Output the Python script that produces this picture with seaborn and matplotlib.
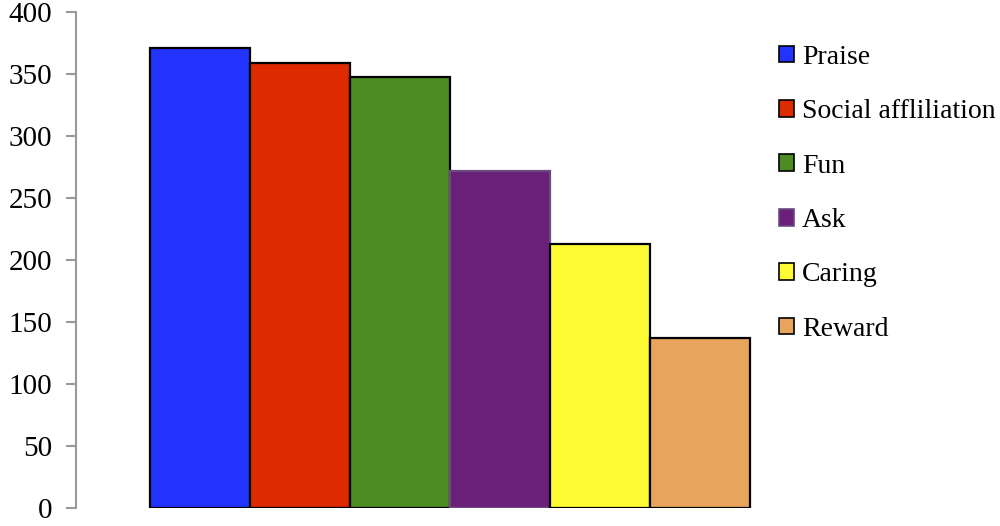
import numpy as np
import pandas as pd
import seaborn as sns
import matplotlib.pyplot as plt

# values
categories = ["Praise", "Social affliliation", "Fun", "Ask", "Caring", "Reward"]
counts = [371, 359, 348, 272, 213, 137]
colors = ["#2233ff", "#dd2a00", "#4d8c22", "#6a1f78", "#fdfb33", "#e6a45c"]
edges = ["black", "black", "black", "#6a4a80", "black", "black"]
yticks = [0, 50, 100, 150, 200, 250, 300, 350, 400]

df = pd.DataFrame({"category": categories, "count": counts})

sns.set_style("white")
plt.rcParams["font.family"] = ["Liberation Serif", "DejaVu Serif"]
plt.rcParams["text.color"] = "black"
plt.rcParams["ytick.color"] = "black"

fig = plt.figure(figsize=(10, 5.26), dpi=100)
ax = fig.add_axes([0.076, 0.034, 0.694, 0.943])

sns.barplot(data=df, x="category", y="count", hue="category",
            palette=colors, saturation=1, width=1.0, legend=False, ax=ax)

for patch, ec in zip(ax.patches, edges):
    patch.set_edgecolor(ec)
    patch.set_linewidth(1.6)

ax.set_ylim(0, 400)
ax.set_xlim(-1.24, 5.7)
ax.set_yticks(yticks)
ax.set_yticklabels([str(t) for t in yticks], fontsize=21)
ax.set_xticks([])
ax.set_xlabel("")
ax.set_ylabel("")

for s in ["top", "right", "bottom"]:
    ax.spines[s].set_visible(False)
ax.spines["left"].set_color("#999999")
ax.spines["left"].set_linewidth(1.5)
ax.tick_params(axis="y", which="major", direction="out", length=7,
               width=1.5, color="#999999", labelcolor="black", left=True, pad=10)

handles = [plt.Rectangle((0, 0), 1, 1, facecolor=c, edgecolor=e, linewidth=1.2)
           for c, e in zip(colors, edges)]
fig.legend(handles, categories, loc="upper left", bbox_to_anchor=(0.779, 0.915),
           frameon=False, fontsize=20, handlelength=0.55, handleheight=0.55,
           handletextpad=0.28, labelspacing=1.06, borderpad=0, borderaxespad=0)

fig.savefig("out.png", dpi=100)
